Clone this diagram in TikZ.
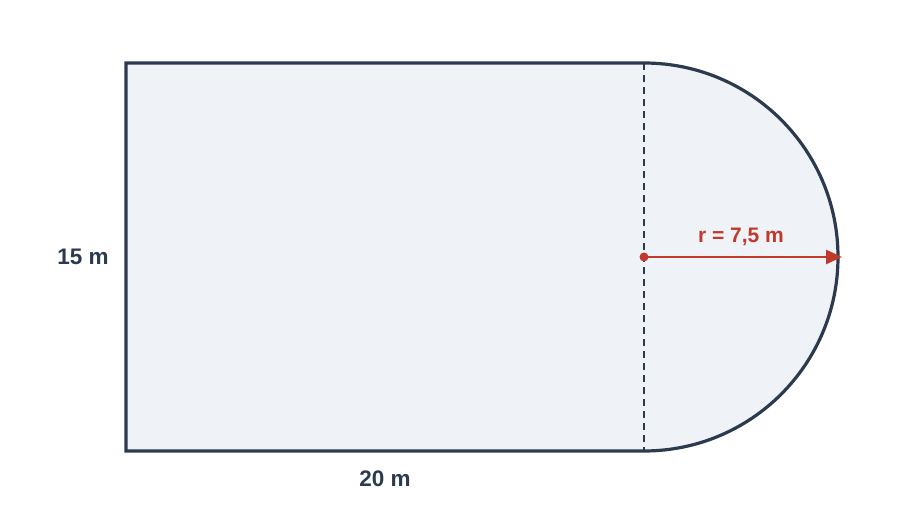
\documentclass[tikz,border=0pt]{standalone}
\usepackage{fontspec}
\setmainfont{Liberation Sans}
\usetikzlibrary{arrows.meta}
\definecolor{ink}{HTML}{2C3A4E}
\definecolor{paper}{HTML}{EFF3F8}
\definecolor{accent}{HTML}{C0392B}
\tikzset{
  outline/.style={draw=ink, line width=3.2pt, fill=paper, line join=miter},
  axisline/.style={draw=ink, line width=1.6pt, dash pattern=on 7pt off 5pt},
  radiusarrow/.style={draw=accent, line width=2.8pt, -{Triangle[length=16pt,width=14pt]}},
  dimlabel/.style={text=ink, font=\bfseries\fontsize{22.5}{27}\selectfont, inner sep=0pt},
  rlabel/.style={text=accent, font=\bfseries\fontsize{21}{25}\selectfont, inner sep=0pt}
}
\begin{document}
\begin{tikzpicture}[x=1pt,y=1pt]
\useasboundingbox (0,0) rectangle (900,523);
\coordinate (tl) at (126,460);
\coordinate (bl) at (126,72);
\coordinate (tr) at (644,460);
\coordinate (br) at (644,72);
\coordinate (c) at (644,266);
\coordinate (e) at (842,266);
\path[outline] (tr) -- (tl) -- (bl) -- (br) arc[start angle=-90, end angle=90, radius=194] -- cycle;
\draw[axisline] (tr) -- (br);
\draw[radiusarrow] (c) -- (e);
\fill[accent] (c) circle[radius=4.5];
\node[dimlabel] (h) at (83,266) {15 m};
\node[dimlabel] (w) at (385,44) {20 m};
\node[rlabel] (r) at (741,286) {r = 7,5 m};
\end{tikzpicture}
\end{document}
